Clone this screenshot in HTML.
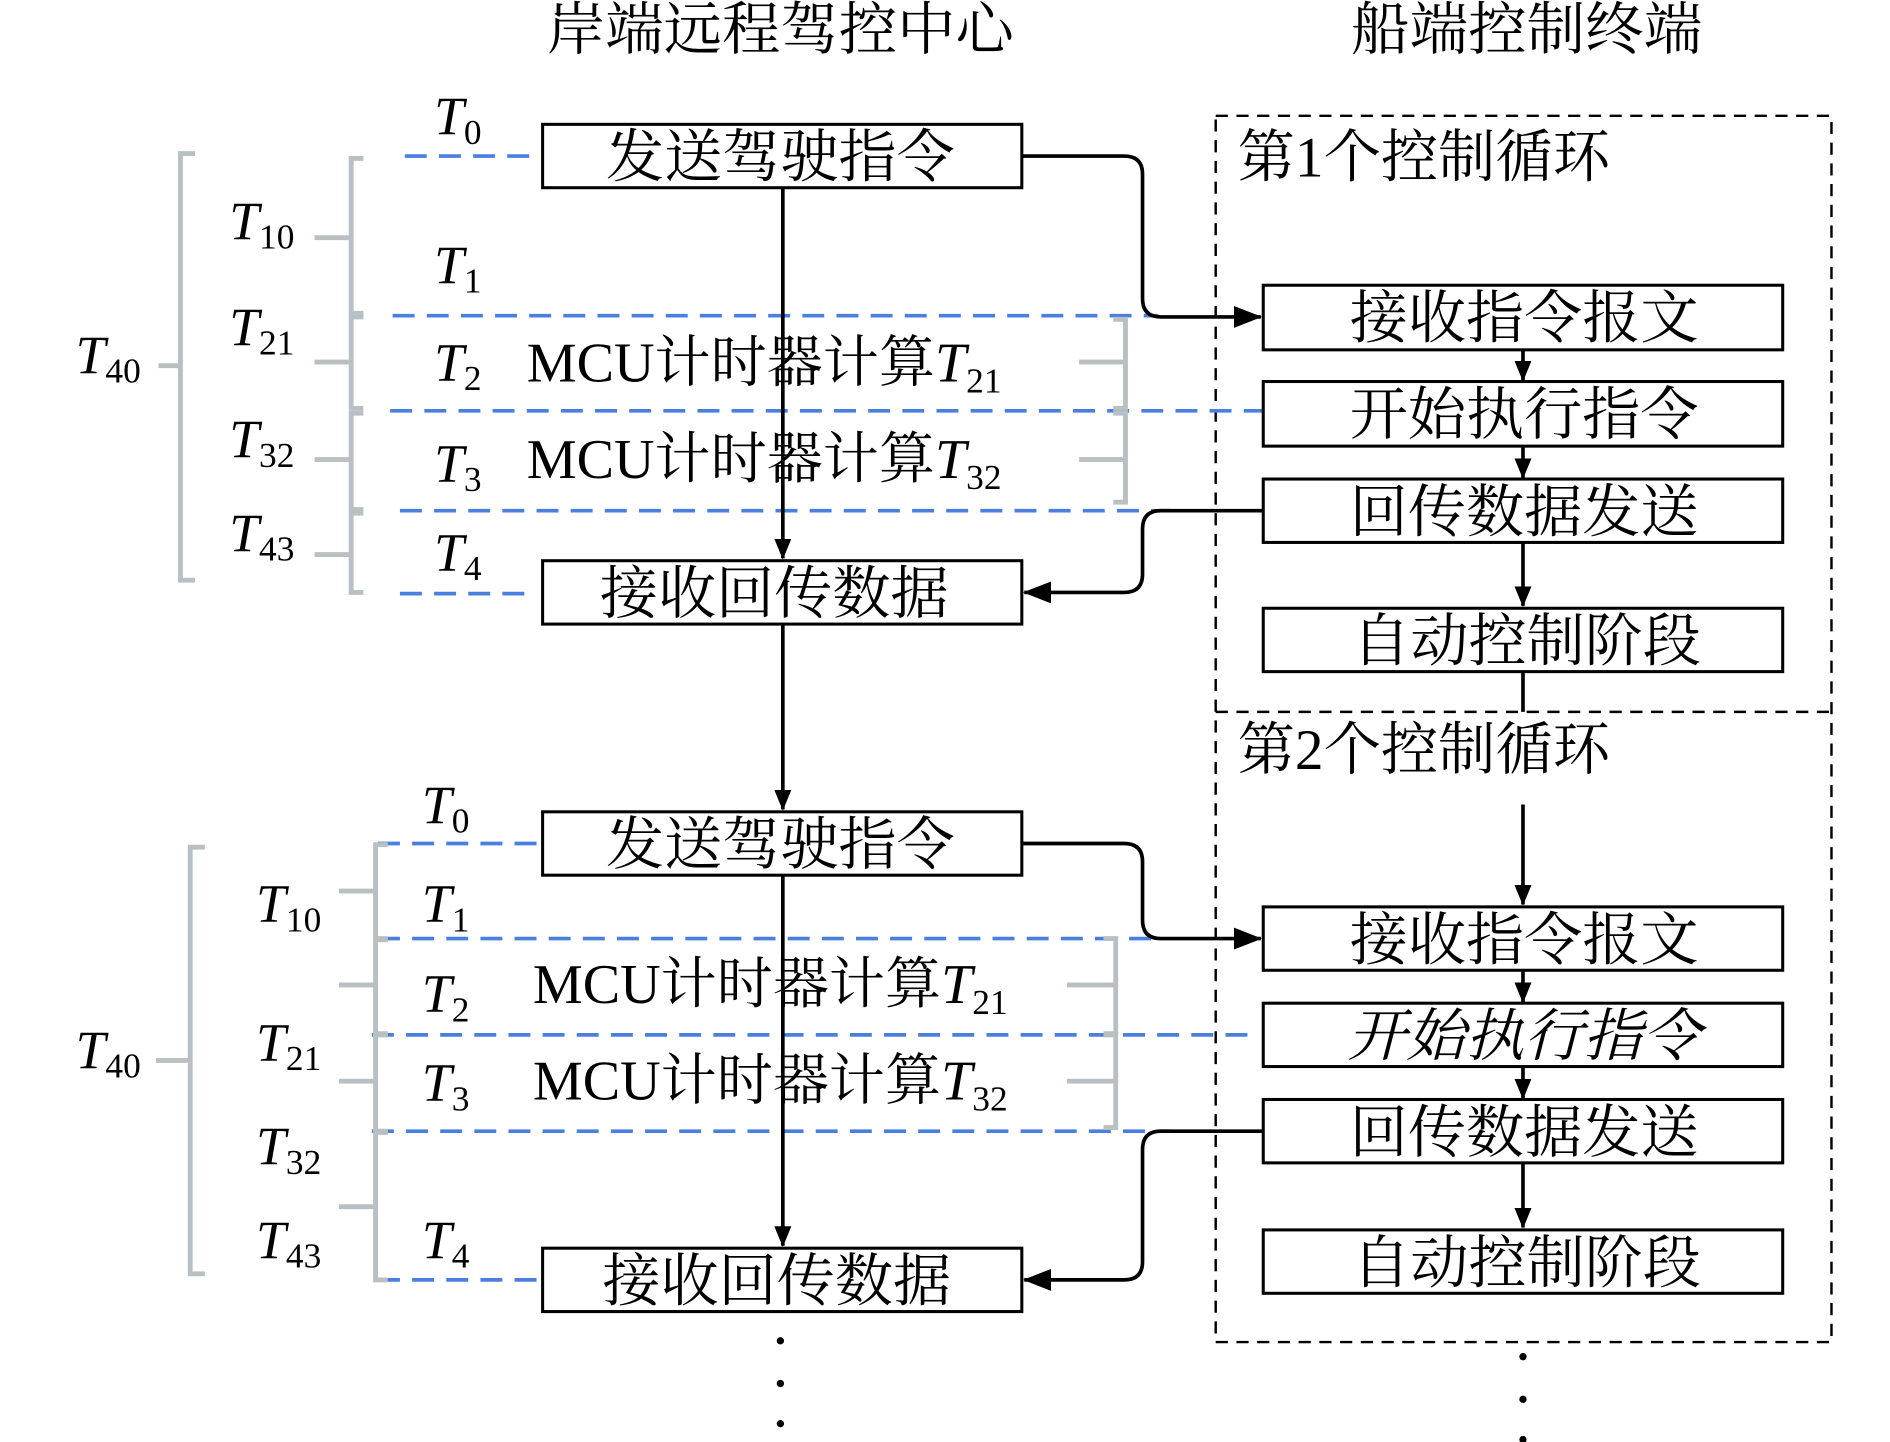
<!DOCTYPE html>
<html><head><meta charset="utf-8"><style>
html,body{margin:0;padding:0;background:#fff}
svg{display:block}
.cn{font-family:"Liberation Serif","Noto Serif CJK SC",serif;font-size:47px;fill:#000}
.ti{font-family:"Liberation Serif","Noto Serif CJK SC",serif;font-size:47px;fill:#000}
.t{font-family:"Liberation Serif",serif;font-style:italic;font-size:44px;fill:#000}
.s{font-family:"Liberation Serif",serif;font-style:normal;font-size:29px}
.m{font-family:"Liberation Serif","Noto Serif CJK SC",serif;font-size:46px;fill:#000}
</style></head><body>
<svg width="1890" height="1442" viewBox="0 0 1550 1183" preserveAspectRatio="none" xmlns="http://www.w3.org/2000/svg">
<defs>
<marker id="a" markerWidth="18" markerHeight="18" refX="16" refY="9" orient="auto" markerUnits="userSpaceOnUse"><path d="M0,2 L17,9 L0,16 z" fill="#000"/></marker>
<marker id="b" markerWidth="24" markerHeight="22" refX="22" refY="11" orient="auto" markerUnits="userSpaceOnUse"><path d="M0,2 L23,11 L0,20 z" fill="#000"/></marker>
</defs>
<text class="ti" x="640" y="40" text-anchor="middle" textLength="383" lengthAdjust="spacingAndGlyphs">岸端远程驾控中心</text>
<text class="ti" x="1252" y="40" text-anchor="middle" textLength="288" lengthAdjust="spacingAndGlyphs">船端控制终端</text>

<g fill="none" stroke="#000" stroke-width="2" stroke-dasharray="10,7">
<rect x="997" y="95" width="505" height="1006"/>
<line x1="997" y1="584" x2="1502" y2="584"/>
</g>
<text class="cn" x="1015" y="145">第1个控制循环</text>
<text class="cn" x="1015" y="631">第2个控制循环</text>

<g stroke="#4a7fe0" stroke-width="3" stroke-dasharray="18,10" fill="none">
<line x1="332" y1="128" x2="440" y2="128"/>
<line x1="322" y1="259" x2="950" y2="259"/>
<line x1="320" y1="337" x2="1036" y2="337"/>
<line x1="328" y1="419" x2="960" y2="419"/>
<line x1="328" y1="487" x2="440" y2="487"/>
<line x1="310" y1="692" x2="440" y2="692"/>
<line x1="310" y1="770" x2="950" y2="770"/>
<line x1="305" y1="849" x2="1033" y2="849"/>
<line x1="305" y1="928" x2="960" y2="928"/>
<line x1="310" y1="1050" x2="440" y2="1050"/>
</g>

<g stroke="#b9c0c3" stroke-width="4" fill="none">
<path d="M160,126 H148 V476 H160 M130,300 H148"/>
<path d="M298,130 H288 V257 H298 M258,195 H288"/>
<path d="M298,260 H288 V335 H298 M258,297 H288"/>
<path d="M298,339 H288 V418 H298 M258,377 H288"/>
<path d="M298,421 H288 V486 H298 M258,455 H288"/>
<path d="M913,262 H923 V335 H913 M885,297 H923"/>
<path d="M913,339 H923 V412 H913 M885,377 H923"/>
<path d="M168,695 H156 V1045 H168 M128,870 H156"/>
<path d="M318,693 H308 V770 H318 M278,731 H308"/>
<path d="M318,771 H308 V848 H318 M278,808 H308"/>
<path d="M318,849 H308 V928 H318 M278,887 H308"/>
<path d="M318,929 H308 V1050 H318 M278,990 H308"/>
<path d="M905,770 H915 V848 H905 M875,808 H915"/>
<path d="M905,849 H915 V925 H905 M875,887 H915"/>
</g>

<g class="t">
<text x="356" y="110">T<tspan class="s" dy="8">0</tspan></text>
<text x="188" y="196">T<tspan class="s" dy="8">10</tspan></text>
<text x="356" y="232">T<tspan class="s" dy="8">1</tspan></text>
<text x="188" y="283">T<tspan class="s" dy="8">21</tspan></text>
<text x="356" y="312">T<tspan class="s" dy="8">2</tspan></text>
<text x="188" y="375">T<tspan class="s" dy="8">32</tspan></text>
<text x="356" y="395">T<tspan class="s" dy="8">3</tspan></text>
<text x="188" y="452">T<tspan class="s" dy="8">43</tspan></text>
<text x="356" y="468">T<tspan class="s" dy="8">4</tspan></text>
<text x="62" y="306">T<tspan class="s" dy="8">40</tspan></text>
<text x="346" y="675">T<tspan class="s" dy="8">0</tspan></text>
<text x="210" y="756">T<tspan class="s" dy="8">10</tspan></text>
<text x="346" y="756">T<tspan class="s" dy="8">1</tspan></text>
<text x="346" y="830">T<tspan class="s" dy="8">2</tspan></text>
<text x="210" y="870">T<tspan class="s" dy="8">21</tspan></text>
<text x="346" y="903">T<tspan class="s" dy="8">3</tspan></text>
<text x="210" y="955">T<tspan class="s" dy="8">32</tspan></text>
<text x="210" y="1032">T<tspan class="s" dy="8">43</tspan></text>
<text x="346" y="1032">T<tspan class="s" dy="8">4</tspan></text>
<text x="62" y="876">T<tspan class="s" dy="8">40</tspan></text>
</g>

<g stroke="#000" stroke-width="3" fill="none">
<line x1="642" y1="154" x2="642" y2="458" marker-end="url(#a)"/>
<line x1="642" y1="512" x2="642" y2="664" marker-end="url(#a)"/>
<line x1="642" y1="718" x2="642" y2="1022" marker-end="url(#a)"/>
<line x1="1249" y1="287" x2="1249" y2="312" marker-end="url(#a)"/>
<line x1="1249" y1="366" x2="1249" y2="392" marker-end="url(#a)"/>
<line x1="1249" y1="445" x2="1249" y2="497" marker-end="url(#a)"/>
<line x1="1249" y1="551" x2="1249" y2="584"/>
<line x1="1249" y1="660" x2="1249" y2="742" marker-end="url(#a)"/>
<line x1="1249" y1="796" x2="1249" y2="822" marker-end="url(#a)"/>
<line x1="1249" y1="875" x2="1249" y2="901" marker-end="url(#a)"/>
<line x1="1249" y1="954" x2="1249" y2="1007" marker-end="url(#a)"/>
<path d="M838,128 H922 Q937,128 937,143 V245 Q937,260 952,260 H1034" marker-end="url(#b)"/>
<path d="M1036,419 H952 Q937,419 937,434 V471 Q937,486 922,486 H840" marker-end="url(#b)"/>
<path d="M838,692 H922 Q937,692 937,707 V755 Q937,770 952,770 H1034" marker-end="url(#b)"/>
<path d="M1036,928 H952 Q937,928 937,943 V1035 Q937,1050 922,1050 H840" marker-end="url(#b)"/>
</g>

<g fill="#fff" stroke="#000" stroke-width="2.5">
<rect x="445" y="102" width="393" height="52"/>
<rect x="445" y="460" width="393" height="52"/>
<rect x="445" y="666" width="393" height="52"/>
<rect x="445" y="1024" width="393" height="52"/>
<rect x="1036" y="234" width="426" height="53"/>
<rect x="1036" y="313" width="426" height="53"/>
<rect x="1036" y="393" width="426" height="52"/>
<rect x="1036" y="499" width="426" height="52"/>
<rect x="1036" y="744" width="426" height="52"/>
<rect x="1036" y="823" width="426" height="52"/>
<rect x="1036" y="902" width="426" height="52"/>
<rect x="1036" y="1009" width="426" height="52"/>
</g>
<g class="cn" text-anchor="middle">
<text x="640" y="145" textLength="286" lengthAdjust="spacingAndGlyphs">发送驾驶指令</text>
<text x="635" y="503" textLength="286" lengthAdjust="spacingAndGlyphs">接收回传数据</text>
<text x="640" y="709" textLength="286" lengthAdjust="spacingAndGlyphs">发送驾驶指令</text>
<text x="637" y="1067" textLength="286" lengthAdjust="spacingAndGlyphs">接收回传数据</text>
<text x="1250" y="277" textLength="286" lengthAdjust="spacingAndGlyphs">接收指令报文</text>
<text x="1250" y="356" textLength="286" lengthAdjust="spacingAndGlyphs">开始执行指令</text>
<text x="1250" y="436" textLength="286" lengthAdjust="spacingAndGlyphs">回传数据发送</text>
<text x="1252" y="542" textLength="286" lengthAdjust="spacingAndGlyphs">自动控制阶段</text>
<text x="1250" y="787" textLength="286" lengthAdjust="spacingAndGlyphs">接收指令报文</text>
<text x="1250" y="866" font-style="italic" textLength="290" lengthAdjust="spacingAndGlyphs">开始执行指令</text>
<text x="1250" y="945" textLength="286" lengthAdjust="spacingAndGlyphs">回传数据发送</text>
<text x="1252" y="1052" textLength="286" lengthAdjust="spacingAndGlyphs">自动控制阶段</text>
</g>

<g class="m">
<text x="432" y="313">MCU计时器计算<tspan font-style="italic">T</tspan><tspan class="s" dy="9">21</tspan></text>
<text x="432" y="392">MCU计时器计算<tspan font-style="italic">T</tspan><tspan class="s" dy="9">32</tspan></text>
<text x="437" y="823">MCU计时器计算<tspan font-style="italic">T</tspan><tspan class="s" dy="9">21</tspan></text>
<text x="437" y="902">MCU计时器计算<tspan font-style="italic">T</tspan><tspan class="s" dy="9">32</tspan></text>
</g>

<g fill="#000">
<circle cx="640" cy="1100" r="3"/><circle cx="640" cy="1135" r="3"/><circle cx="640" cy="1168" r="3"/>
<circle cx="1249" cy="1113" r="3"/><circle cx="1249" cy="1148" r="3"/><circle cx="1249" cy="1181" r="3"/>
</g>
</svg>
</body></html>
